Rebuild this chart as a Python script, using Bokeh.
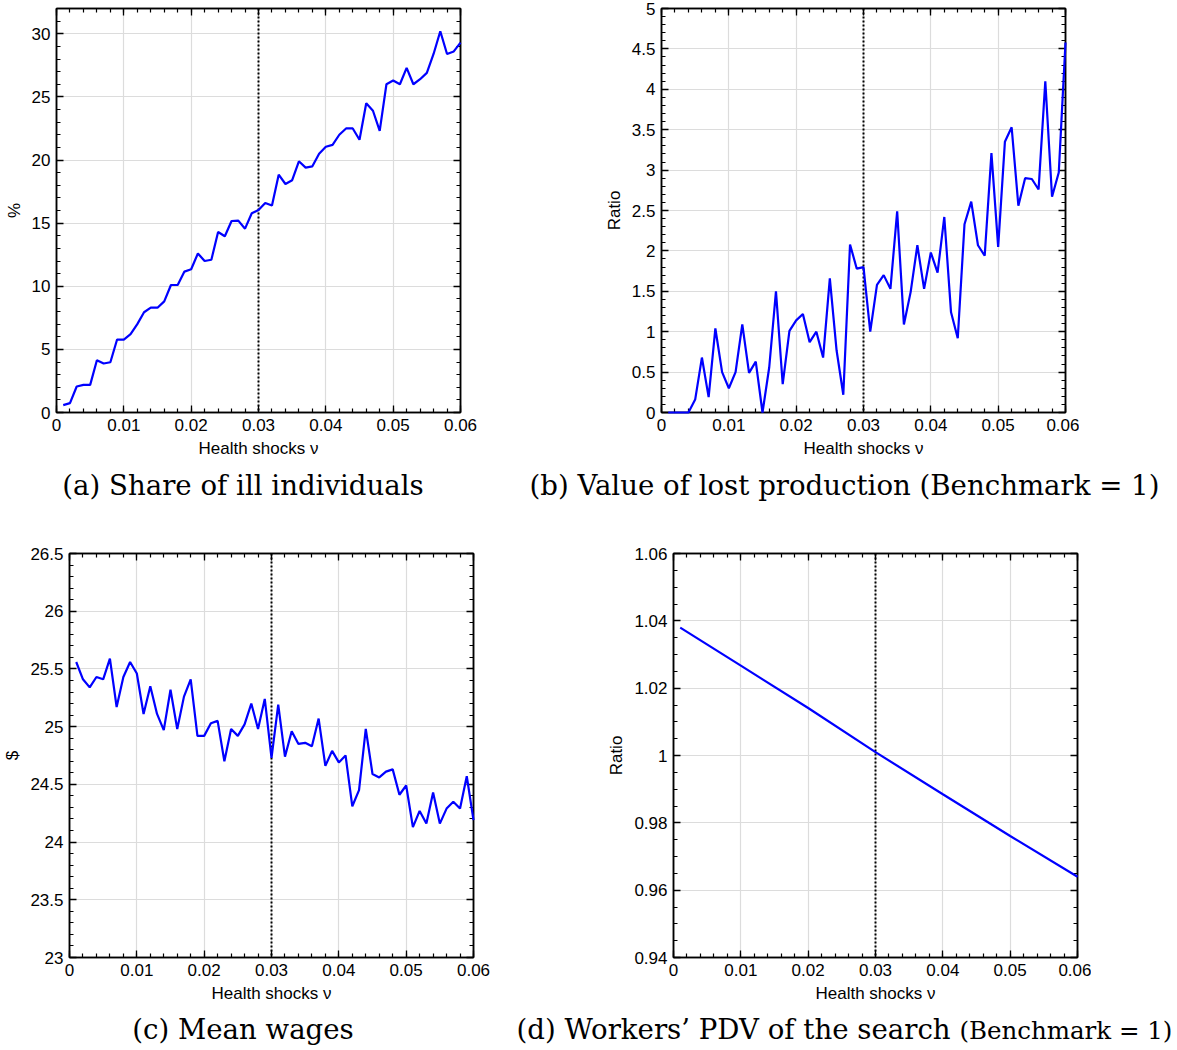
from bokeh.plotting import figure
from bokeh.models import (LinearAxis, FixedTicker, Span, Range1d, PrintfTickFormatter, Div,
                          CustomLabelingPolicy)
from bokeh.layouts import column, row
from bokeh.embed import file_html
from bokeh.resources import INLINE

# ---------------- data ----------------
nu = [0.001, 0.002, 0.003, 0.004, 0.005, 0.006, 0.007, 0.008, 0.009, 0.010,
      0.011, 0.012, 0.013, 0.014, 0.015, 0.016, 0.017, 0.018, 0.019, 0.020,
      0.021, 0.022, 0.023, 0.024, 0.025, 0.026, 0.027, 0.028, 0.029, 0.030,
      0.031, 0.032, 0.033, 0.034, 0.035, 0.036, 0.037, 0.038, 0.039, 0.040,
      0.041, 0.042, 0.043, 0.044, 0.045, 0.046, 0.047, 0.048, 0.049, 0.050,
      0.051, 0.052, 0.053, 0.054, 0.055, 0.056, 0.057, 0.058, 0.059, 0.060]

share_ill = [0.58, 0.74, 2.06, 2.19, 2.19, 4.14, 3.88, 3.98, 5.78, 5.78,
             6.2, 7.0, 7.94, 8.3, 8.3, 8.8, 10.1, 10.1, 11.16, 11.35,
             12.6, 12.0, 12.1, 14.3, 13.96, 15.17, 15.2, 14.56, 15.78, 16.04,
             16.6, 16.4, 18.84, 18.1, 18.4, 19.9, 19.4, 19.5, 20.5, 21.05,
             21.2, 22.0, 22.5, 22.5, 21.6, 24.5, 23.9, 22.3, 26.0, 26.3,
             26.0, 27.3, 26.0, 26.4, 26.9, 28.4, 30.2, 28.4, 28.6, 29.3]

lost_production = [0, 0, 0, 0, 0.16, 0.68, 0.19, 1.04, 0.5, 0.30,
                   0.5, 1.09, 0.49, 0.63, 0, 0.56, 1.5, 0.35, 1.01, 1.14,
                   1.22, 0.87, 1.0, 0.68, 1.66, 0.77, 0.22, 2.08, 1.78, 1.8,
                   1.0, 1.58, 1.70, 1.53, 2.49, 1.09, 1.49, 2.07, 1.53, 1.98,
                   1.73, 2.42, 1.24, 0.92, 2.33, 2.61, 2.07, 1.94, 3.21, 2.05,
                   3.35, 3.53, 2.56, 2.90, 2.89, 2.76, 4.10, 2.67, 2.97, 4.58]

mean_wages = [25.56, 25.41, 25.34, 25.43, 25.41, 25.59, 25.17, 25.43, 25.56, 25.46,
              25.11, 25.35, 25.11, 24.97, 25.32, 24.98, 25.26, 25.41, 24.92, 24.92,
              25.03, 25.05, 24.70, 24.98, 24.92, 25.02, 25.20, 24.98, 25.24, 24.73,
              25.19, 24.74, 24.96, 24.85, 24.86, 24.83, 25.07, 24.66, 24.79, 24.69,
              24.75, 24.31, 24.45, 24.98, 24.59, 24.56, 24.61, 24.63, 24.41, 24.49,
              24.13, 24.27, 24.16, 24.43, 24.16, 24.29, 24.35, 24.29, 24.57, 24.19]

nu_pdv = [0.001, 0.01, 0.02, 0.03, 0.04, 0.05, 0.06]
workers_pdv = [1.038, 1.0267, 1.0141, 1.0010, 0.9885, 0.9761, 0.9640]

benchmark_nu = 0.03

x_ticks = [0, 0.01, 0.02, 0.03, 0.04, 0.05, 0.06]
x_tick_labels = ["0", "0.01", "0.02", "0.03", "0.04", "0.05", "0.06"]

a_y_ticks = [0, 5, 10, 15, 20, 25, 30]
a_y_labels = ["0", "5", "10", "15", "20", "25", "30"]
b_y_ticks = [0, 0.5, 1, 1.5, 2, 2.5, 3, 3.5, 4, 4.5, 5]
b_y_labels = ["0", "0.5", "1", "1.5", "2", "2.5", "3", "3.5", "4", "4.5", "5"]
c_y_ticks = [23, 23.5, 24, 24.5, 25, 25.5, 26, 26.5]
c_y_labels = ["23", "23.5", "24", "24.5", "25", "25.5", "26", "26.5"]
d_y_ticks = [0.94, 0.96, 0.98, 1.0, 1.02, 1.04, 1.06]
d_y_labels = ["0.94", "0.96", "0.98", "1", "1.02", "1.04", "1.06"]

x_label = "Health shocks ν"
captions = ["(a) Share of ill individuals",
            "(b) Value of lost production (Benchmark = 1)",
            "(c) Mean wages",
            "(d) Workers’ PDV of the search"]
caption_d_small = "(Benchmark = 1)"

# ---------------- styling ----------------
SANS = "Liberation Sans"
SERIF = "DejaVu Serif"
TICK_SIZE = "17px"
FW, FH = 404, 404

NO_LABELS = """
for (let i = 0; i < indices.size; i++) { indices.unset(i) }
return indices
"""


def minor_positions(lo, hi, step):
    n = int(round((hi - lo) / step))
    return [round(lo + i * step, 6) for i in range(n + 1)]


def style_axis(ax, ticks, labels, minor, show_labels, axis_label=None):
    ax.ticker = FixedTicker(ticks=ticks, minor_ticks=minor)
    ax.axis_line_color = "black"
    ax.axis_line_width = 1.5
    ax.major_tick_in = 7
    ax.major_tick_out = 0
    ax.minor_tick_in = 4
    ax.minor_tick_out = 0
    ax.major_tick_line_color = "black"
    ax.minor_tick_line_color = "black"
    ax.major_tick_line_width = 1.3
    ax.minor_tick_line_width = 1.2
    ax.major_label_text_font = SANS
    ax.major_label_text_color = "black"
    if show_labels:
        ax.major_label_text_font_size = TICK_SIZE
        ax.formatter = PrintfTickFormatter(format="%g")
        ax.major_label_overrides = dict(zip(ticks, labels))
        ax.major_label_standoff = 6
    else:
        # mirrored frame axis: ticks only, no labels drawn and no space reserved
        ax.major_label_text_font_size = "1px"
        ax.major_label_policy = CustomLabelingPolicy(code=NO_LABELS)
        ax.major_label_standoff = 0
    if axis_label:
        ax.axis_label = axis_label
        ax.axis_label_text_font = SANS
        ax.axis_label_text_font_size = TICK_SIZE
        ax.axis_label_text_font_style = "normal"
        ax.axis_label_text_color = "black"
        ax.axis_label_standoff = 5


def make_panel(xs, ys, y_lo, y_hi, y_ticks, y_labels, y_minor_step, ylabel,
               left, right, top, bottom):
    p = figure(x_range=Range1d(0, 0.06), y_range=Range1d(y_lo, y_hi),
               frame_width=FW, frame_height=FH,
               min_border_left=left, min_border_right=right,
               min_border_top=top, min_border_bottom=bottom,
               toolbar_location=None, tools="", output_backend="svg",
               background_fill_color="white", border_fill_color="white")
    x_minor = minor_positions(0, 0.06, 0.002)
    y_minor = minor_positions(y_lo, y_hi, y_minor_step)

    style_axis(p.xaxis[0], x_ticks, x_tick_labels, x_minor, True, x_label)
    style_axis(p.yaxis[0], y_ticks, y_labels, y_minor, True, ylabel)

    top_ax = LinearAxis()
    style_axis(top_ax, x_ticks, x_tick_labels, x_minor, False)
    p.add_layout(top_ax, "above")
    right_ax = LinearAxis()
    style_axis(right_ax, y_ticks, y_labels, y_minor, False)
    p.add_layout(right_ax, "right")

    p.xgrid.ticker = FixedTicker(ticks=x_ticks)
    p.ygrid.ticker = FixedTicker(ticks=y_ticks)
    for g in (p.xgrid, p.ygrid):
        g.grid_line_color = "#dcdcdc"
        g.grid_line_width = 1.2

    p.outline_line_color = "black"
    p.outline_line_width = 1.5

    p.add_layout(Span(location=benchmark_nu, dimension="height",
                      line_color="black", line_dash="2 2", line_width=2))
    p.line(xs, ys, line_color="#0000ff", line_width=2.2, level="overlay")
    return p


pa = make_panel(nu, share_ill, 0, 32, a_y_ticks, a_y_labels, 1, "%",
                left=56, right=140, top=8, bottom=53)
pb = make_panel(nu, lost_production, 0, 5, b_y_ticks, b_y_labels, 0.1, "Ratio",
                left=61, right=14, top=8, bottom=53)
pc = make_panel(nu, mean_wages, 23, 26.5, c_y_ticks, c_y_labels, 0.1, "$",
                left=65, right=131, top=23, bottom=53)
pd = make_panel(nu_pdv, workers_pdv, 0.94, 1.06, d_y_ticks, d_y_labels, 0.005, "Ratio",
                left=66, right=14, top=23, bottom=53)


def caption(text, width, height, line_height, shift):
    return Div(text='<span style="position:relative;left:%dpx">%s</span>' % (shift, text),
               width=width, height=height, margin=(0, 0, 0, 0),
               styles={"font-family": SERIF, "font-size": "27.6px", "color": "black",
                       "text-align": "center", "line-height": "%dpx" % line_height,
                       "white-space": "nowrap"})


da = caption(captions[0], 486, 65, 42, 0)
db = caption(captions[1], 691, 65, 42, 13)
dc = caption(captions[2], 486, 40, 40, 0)
dd = caption(captions[3] + ' <span style="font-size:24.5px">' + caption_d_small + '</span>',
             691, 40, 40, 13)

layout = column(row(pa, pb), row(da, db), row(pc, pd), row(dc, dd))

open("out.html", "w").write(file_html(layout, INLINE))
